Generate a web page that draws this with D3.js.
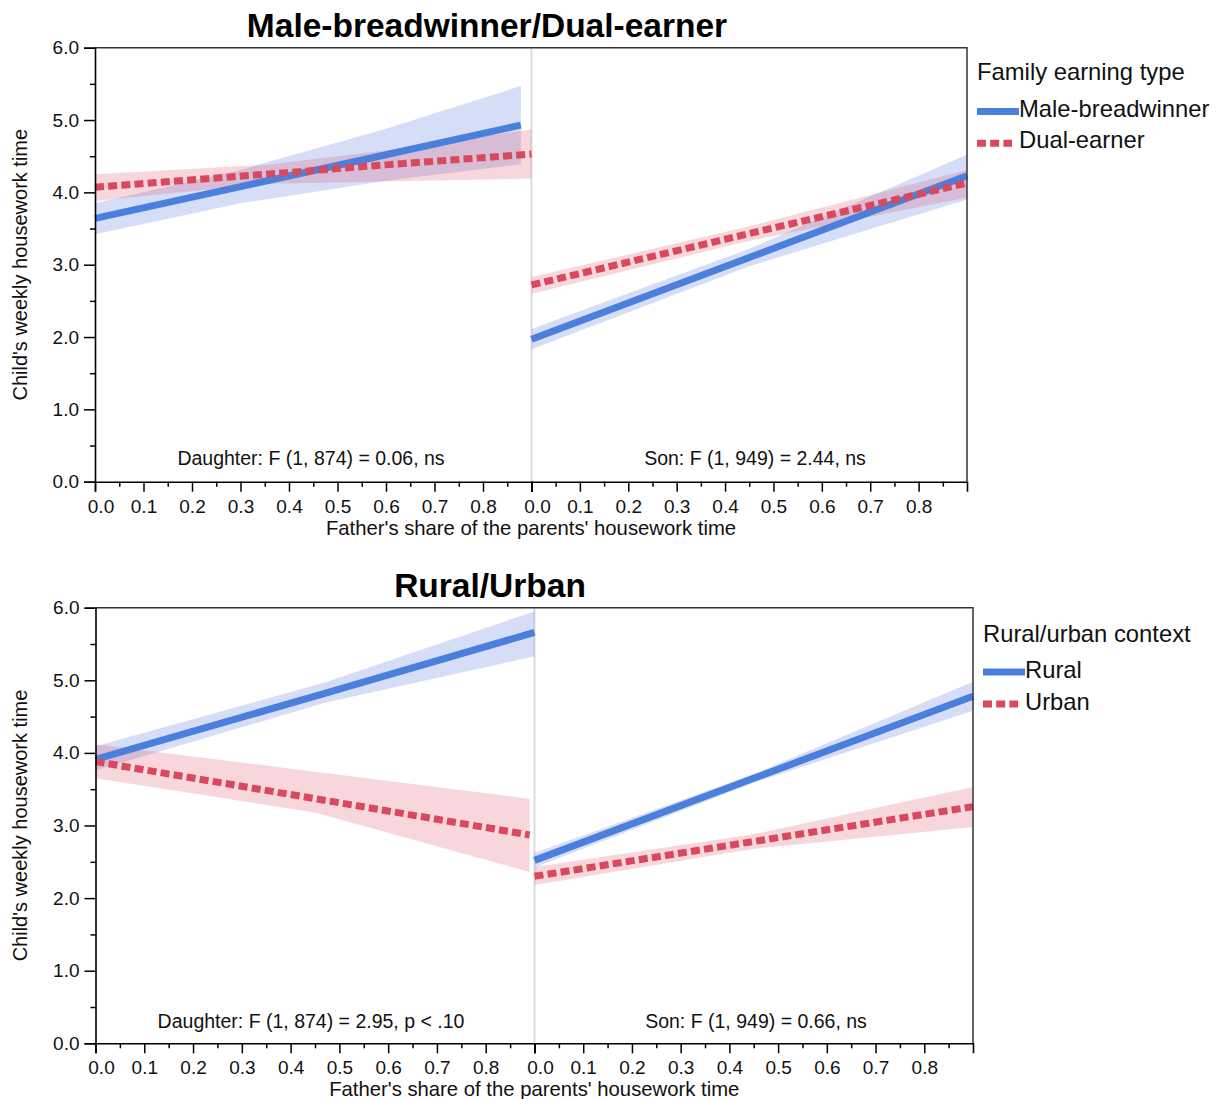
<!DOCTYPE html>
<html><head><meta charset="utf-8">
<script src="https://cdn.jsdelivr.net/npm/d3@7"></script>
<style>body{margin:0;background:#fff} svg{display:block}</style>
</head><body>
<svg id="chart" width="1221" height="1099"></svg>
<script>
// ---------- data ----------
const chartTitles = ["Male-breadwinner/Dual-earner", "Rural/Urban"];
const legendTitles = ["Family earning type", "Rural/urban context"];
const familyTypes = ["Male-breadwinner", "Dual-earner"];
const contextTypes = ["Rural", "Urban"];
const childGroups = ["Daughter", "Son"];
const xAxisTitle = "Father's share of the parents' housework time";
const yAxisTitle = "Child's weekly housework time";

const xTicks = [0.0, 0.1, 0.2, 0.3, 0.4, 0.5, 0.6, 0.7, 0.8];
const xMinorTicks = [0.05, 0.15, 0.25, 0.35, 0.45, 0.55, 0.65, 0.75, 0.85];
const yTicks = [0, 1, 2, 3, 4, 5, 6];
const yMinorTicks = [0.5, 1.5, 2.5, 3.5, 4.5, 5.5];

// rows: [father's share, fitted time, lower CI, upper CI]
const maleBreadwinnerDaughter = [[0, 3.64, 3.42, 3.85], [0.3, 4.08, 3.85, 4.31], [0.6, 4.52, 4.16, 4.88], [0.878, 4.93, 4.39, 5.47]];
const dualEarnerDaughter     = [[0, 4.07, 3.88, 4.25], [0.35, 4.25, 4.12, 4.38], [0.6, 4.38, 4.15, 4.58], [0.9, 4.53, 4.19, 4.87]];
const maleBreadwinnerSon     = [[0, 1.97, 1.83, 2.11], [0.45, 3.10, 2.98, 3.22], [0.9, 4.23, 3.90, 4.52]];
const dualEarnerSon          = [[0, 2.72, 2.60, 2.83], [0.45, 3.43, 3.33, 3.53], [0.9, 4.13, 3.93, 4.31]];

const ruralDaughter = [[0, 3.91, 3.76, 4.09], [0.47, 4.82, 4.69, 4.97], [0.9, 5.66, 5.33, 5.95]];
const urbanDaughter = [[0, 3.88, 3.65, 4.12], [0.45, 3.37, 3.18, 3.74], [0.89, 2.87, 2.36, 3.37]];
const ruralSon      = [[0, 2.52, 2.42, 2.62], [0.45, 3.65, 3.59, 3.71], [0.9, 4.78, 4.58, 4.98]];
const urbanSon      = [[0, 2.30, 2.18, 2.43], [0.45, 2.78, 2.68, 2.88], [0.9, 3.26, 2.98, 3.53]];

const familyTests  = ["Daughter: F (1, 874) = 0.06, ns", "Son: F (1, 949) = 2.44, ns"];
const contextTests = ["Daughter: F (1, 874) = 2.95, p < .10", "Son: F (1, 949) = 0.66, ns"];

// ---------- styles / layout ----------
const FONT = "'Liberation Sans', Arial, Helvetica, sans-serif";
const BLUE = "#4a80dc", RED = "#d9485c";
const BLUE_FILL = "#5070dc", RED_FILL = "#d9485c";
const seriesStyle = [
  {stroke: BLUE, fill: BLUE_FILL, fillOpacity: 0.24, dash: null},
  {stroke: RED,  fill: RED_FILL,  fillOpacity: 0.22, dash: "9,4.2"}
];

const figures = [
  {title: chartTitles[0], legendTitle: legendTitles[0], names: familyTypes, tests: familyTests,
   data: [[maleBreadwinnerDaughter, dualEarnerDaughter], [maleBreadwinnerSon, dualEarnerSon]],
   L: 95, D: 531.5, R: 967, T: 47.7, B: 481.7, titleX: 487, titleY: 36.5,
   legX: 977, legTitleY: 80, legLineY: [111.5, 143.3], legTextY: [117, 148],
   annY: 465, annX: [311, 755], xTitleY: 535},
  {title: chartTitles[1], legendTitle: legendTitles[1], names: contextTypes, tests: contextTests,
   data: [[ruralDaughter, urbanDaughter], [ruralSon, urbanSon]],
   L: 95.5, D: 534.5, R: 973, T: 607.7, B: 1043.3, titleX: 490, titleY: 596.7,
   legX: 983, legTitleY: 641.5, legLineY: [672, 704], legTextY: [678, 710],
   annY: 1028, annX: [311, 756], xTitleY: 1096}
];

const svg = d3.select("#chart");

figures.forEach(fig => {
  const g = svg.append("g");
  const y = d3.scaleLinear().domain([0, 6]).range([fig.B, fig.T]);
  const xs = [
    d3.scaleLinear().domain([0, 0.9]).range([fig.L, fig.D]),
    d3.scaleLinear().domain([0, 0.9]).range([fig.D, fig.R])
  ];

  // divider
  g.append("line").attr("x1", fig.D).attr("x2", fig.D).attr("y1", fig.T).attr("y2", fig.B)
    .attr("stroke", "#dcdcdc").attr("stroke-width", 2);

  // ribbons
  fig.data.forEach((panel, p) => {
    const x = xs[p];
    panel.forEach((rows, s) => {
      const area = d3.area().x(d => x(d[0])).y0(d => y(d[2])).y1(d => y(d[3]));
      g.append("path").datum(rows).attr("d", area)
        .attr("fill", seriesStyle[s].fill).attr("fill-opacity", seriesStyle[s].fillOpacity);
    });
  });
  // lines
  fig.data.forEach((panel, p) => {
    const x = xs[p];
    panel.forEach((rows, s) => {
      const line = d3.line().x(d => x(d[0])).y(d => y(d[1]));
      g.append("path").datum(rows).attr("d", line)
        .attr("fill", "none").attr("stroke", seriesStyle[s].stroke)
        .attr("stroke-width", 7).attr("stroke-dasharray", seriesStyle[s].dash);
    });
  });

  // frame (top & right)
  g.append("path")
    .attr("d", `M${fig.L},${fig.T}H${fig.R}V${fig.B}`)
    .attr("fill", "none").attr("stroke", "#333").attr("stroke-width", 1.5);

  // y axis
  g.append("g").attr("transform", `translate(${fig.L},0)`)
    .call(d3.axisLeft(y).tickValues(yTicks).tickSize(11).tickPadding(5).tickFormat(d3.format(".1f")));
  const yMin = g.append("g").attr("transform", `translate(${fig.L},0)`)
    .call(d3.axisLeft(y).tickValues(yMinorTicks).tickSize(5).tickFormat(""));
  yMin.select(".domain").remove();

  // x axes
  xs.forEach((x, p) => {
    const ax = g.append("g").attr("transform", `translate(0,${fig.B})`)
      .call(d3.axisBottom(x).tickValues(xTicks).tickSize(10).tickPadding(7.5).tickFormat(d3.format(".1f")));
    ax.selectAll(".tick text").filter(d => d === 0).attr("dx", 5.5);
    const mn = g.append("g").attr("transform", `translate(0,${fig.B})`)
      .call(d3.axisBottom(x).tickValues(xMinorTicks).tickSize(5).tickFormat(""));
    mn.select(".domain").remove();
  });

  g.selectAll(".tick text").attr("font-family", FONT).attr("font-size", 19).attr("fill", "#111");
  g.selectAll(".tick line").attr("stroke", "#000").attr("stroke-width", 1.5);
  g.selectAll(".domain").attr("stroke", "#000").attr("stroke-width", 1.6);

  // annotations
  fig.tests.forEach((t, p) => {
    g.append("text").attr("x", fig.annX[p]).attr("y", fig.annY).attr("text-anchor", "middle")
      .attr("font-family", FONT).attr("font-size", 19.5).attr("fill", "#111").text(t);
  });

  // title
  g.append("text").attr("x", fig.titleX).attr("y", fig.titleY).attr("text-anchor", "middle")
    .attr("font-family", FONT).attr("font-weight", "bold").attr("font-size", 33.5).attr("fill", "#000")
    .text(fig.title);

  // axis titles
  g.append("text").attr("x", (fig.L + fig.R) / 2).attr("y", fig.xTitleY).attr("text-anchor", "middle")
    .attr("font-family", FONT).attr("font-size", 20.3).attr("fill", "#111").text(xAxisTitle);
  g.append("text").attr("transform", `translate(27,${(fig.T + fig.B) / 2}) rotate(-90)`)
    .attr("text-anchor", "middle").attr("font-family", FONT).attr("font-size", 20).attr("fill", "#111")
    .text(yAxisTitle);

  // legend
  g.append("text").attr("x", fig.legX).attr("y", fig.legTitleY)
    .attr("font-family", FONT).attr("font-size", 23.8).attr("fill", "#111").text(fig.legendTitle);
  fig.names.forEach((n, s) => {
    const st = seriesStyle[s];
    g.append("line").attr("x1", fig.legX).attr("x2", fig.legX + (s === 0 ? 42 : 35))
      .attr("y1", fig.legLineY[s]).attr("y2", fig.legLineY[s])
      .attr("stroke", st.stroke).attr("stroke-width", 7).attr("stroke-dasharray", st.dash);
    g.append("text").attr("x", fig.legX + 42).attr("y", fig.legTextY[s])
      .attr("font-family", FONT).attr("font-size", 23.8).attr("fill", "#111").text(n);
  });
});
</script>
</body></html>
